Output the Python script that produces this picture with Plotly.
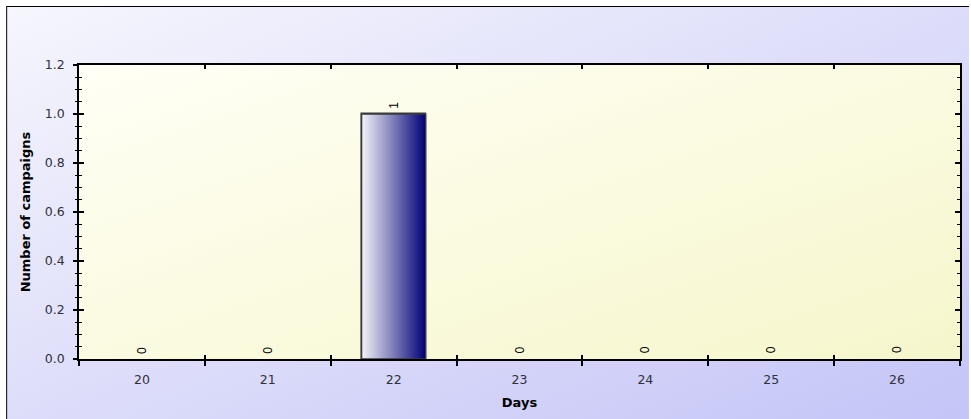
import base64
import plotly.graph_objects as go

# Campaigns started per day
days = [20, 21, 22, 23, 24, 25, 26]
campaigns = [0, 0, 1, 0, 0, 0, 0]
y_ticks = [0.0, 0.2, 0.4, 0.6, 0.8, 1.0, 1.2]

W, H = 971, 419
L, R, T, B = 79, 9, 65, 60
PW, PH = W - L - R, H - T - B
BAR_W = 0.51

FONT = "DejaVu Sans, Verdana, sans-serif"
LABEL_FONT = "Liberation Sans, Arial, sans-serif"
TXT = "#30303c"


def svg_uri(svg):
    return "data:image/svg+xml;base64," + base64.b64encode(svg.encode()).decode()


# Canvas: white edge, black frame, diagonal lavender gradient
canvas_svg = f"""<svg xmlns='http://www.w3.org/2000/svg' width='{W}' height='{H}'>
<defs><linearGradient id='g' x1='0' y1='0' x2='1' y2='1'>
<stop offset='0' stop-color='#f6f6fd'/><stop offset='1' stop-color='#c3c3f7'/>
</linearGradient></defs>
<rect width='{W}' height='{H}' fill='white'/>
<rect x='6.5' y='6.5' width='{W + 10}' height='{H + 10}' fill='url(#g)' stroke='black' stroke-width='1'/>
</svg>"""

# Plot area: pale yellow diagonal gradient
plot_svg = """<svg xmlns='http://www.w3.org/2000/svg' width='100' height='100' preserveAspectRatio='none'>
<defs><linearGradient id='p' x1='0' y1='0' x2='1' y2='1'>
<stop offset='0' stop-color='#fffff6'/><stop offset='1' stop-color='#f6f6cc'/>
</linearGradient></defs>
<rect width='100' height='100' fill='url(#p)'/>
</svg>"""

fig = go.Figure()

# Bar outlines (transparent fill); empty days get no outline
fig.add_trace(go.Bar(
    x=days, y=campaigns, width=BAR_W,
    marker=dict(color="rgba(0,0,0,0)",
                line=dict(color="#3a3a3a", width=[1.5 if v else 0 for v in campaigns])),
    hoverinfo="x+y", showlegend=False,
))

# Gradient fill for each non-zero bar, built from its value
for d, v in zip(days, campaigns):
    if v <= 0:
        continue
    x0, x1 = d - BAR_W / 2, d + BAR_W / 2
    fig.add_trace(go.Scatter(
        x=[x0, x1, x1, x0, x0], y=[0, 0, v, v, 0],
        mode="lines", fill="toself",
        fillgradient=dict(type="horizontal",
                          colorscale=[[0, "#f4f4fa"], [0.5, "#7c7cb8"], [1, "#000078"]]),
        line=dict(color="#3a3a3a", width=1.5),
        hoverinfo="skip", showlegend=False,
    ))

# Value labels, rotated, sitting just above each bar
for d, v in zip(days, campaigns):
    fig.add_annotation(
        x=d, y=v, xref="x", yref="y", text=str(v), showarrow=False,
        textangle=-90, yanchor="middle", xanchor="center", yshift=9,
        font=dict(family=LABEL_FONT, size=12, color="black"),
    )

# Invisible helpers so the overlay axes are drawn
fig.add_trace(go.Scatter(x=days, y=campaigns, xaxis="x2", yaxis="y2",
                         mode="markers", marker=dict(opacity=0), hoverinfo="skip",
                         showlegend=False))
fig.add_trace(go.Scatter(x=days, y=campaigns, xaxis="x3", yaxis="y2",
                         mode="markers", marker=dict(opacity=0), hoverinfo="skip",
                         showlegend=False))

xr = [days[0] - 0.5, days[-1] + 0.5]
bounds = [d - 0.5 for d in days] + [days[-1] + 0.5]
yr = [y_ticks[0], y_ticks[-1]]

fig.update_layout(
    width=W, height=H,
    margin=dict(l=L, r=R, t=T, b=B),
    paper_bgcolor="white",
    plot_bgcolor="rgba(0,0,0,0)",
    font=dict(family=FONT, size=12.5, color=TXT),
    bargap=0,
    images=[
        dict(source=svg_uri(canvas_svg), xref="paper", yref="paper",
             x=-L / PW, y=1 + T / PH, sizex=W / PW, sizey=H / PH,
             xanchor="left", yanchor="top", sizing="stretch", layer="below"),
        dict(source=svg_uri(plot_svg), xref="paper", yref="paper",
             x=0, y=1, sizex=1, sizey=1,
             xanchor="left", yanchor="top", sizing="stretch", layer="below"),
    ],
    xaxis=dict(
        range=xr, tickvals=days, ticktext=[str(d) for d in days],
        ticks="", showgrid=False, zeroline=False,
        showline=True, linecolor="black", linewidth=1.5, mirror=True,
        ticklabelstandoff=8,
        title=dict(text="<b>Days</b>", standoff=12,
                   font=dict(family=FONT, size=13, color="black")),
    ),
    xaxis2=dict(
        overlaying="x", range=xr, tickvals=bounds, showticklabels=False,
        ticks="inside", ticklen=4, tickwidth=1.5, tickcolor="black",
        mirror="ticks", showline=False, showgrid=False, zeroline=False,
    ),
    xaxis3=dict(
        overlaying="x", range=xr, tickvals=bounds, showticklabels=False,
        ticks="outside", ticklen=6, tickwidth=1.5, tickcolor="black",
        showline=False, showgrid=False, zeroline=False,
    ),
    yaxis=dict(
        range=yr, tickvals=y_ticks, tickformat=".1f",
        ticks="outside", ticklen=4, tickwidth=1.5, tickcolor="black",
        minor=dict(dtick=0.05, ticks="outside", ticklen=2, tickwidth=1, tickcolor="black"),
        showgrid=False, zeroline=False,
        showline=True, linecolor="black", linewidth=1.5, mirror=True,
        ticklabelstandoff=6,
        title=dict(text="<b>Number of campaigns</b>", standoff=11,
                   font=dict(family=FONT, size=13, color="black")),
    ),
    yaxis2=dict(
        overlaying="y", range=yr, tickvals=y_ticks, showticklabels=False,
        ticks="inside", ticklen=5, tickwidth=1.5, tickcolor="black",
        minor=dict(dtick=0.05, ticks="inside", ticklen=3, tickwidth=1, tickcolor="black"),
        mirror="ticks", showline=False, showgrid=False, zeroline=False,
    ),
)

fig.write_html("out.html")
